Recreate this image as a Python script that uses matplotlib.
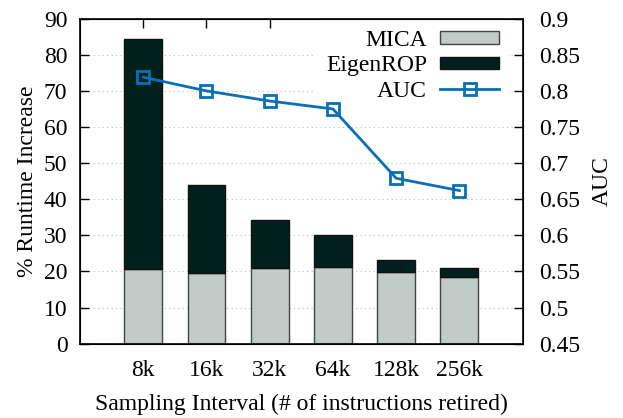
import matplotlib
matplotlib.use("Agg")
import matplotlib.pyplot as plt
import numpy as np

plt.rcParams['font.family'] = ['Liberation Serif', 'DejaVu Serif']

intervals = ["8k", "16k", "32k", "64k", "128k", "256k"]
mica = [20.8, 19.7, 20.9, 21.3, 19.9, 18.6]
eigenrop = [63.6, 24.2, 13.3, 8.8, 3.3, 2.3]
auc = [0.819, 0.800, 0.786, 0.775, 0.679, 0.662]

c_mica = "#c1cbc7"
c_eigen = "#02201c"
c_auc = "#0a6fb3"
fs = 17

fig = plt.figure(figsize=(6.23, 4.18), dpi=100)
ax = fig.add_axes([0.1284, 0.1778, 0.839 - 0.1284, 0.9553 - 0.1778])
x = np.arange(len(intervals))

b1 = ax.bar(x, mica, width=0.6, color=c_mica, edgecolor="#444444", linewidth=1.0, zorder=2, label="MICA")
b2 = ax.bar(x, eigenrop, bottom=mica, width=0.6, color=c_eigen, edgecolor="#111111", linewidth=1.0, zorder=2, label="EigenROP")

ax.set_xlim(-1, 6)
ax.set_ylim(0, 90)
ax.set_yticks(np.arange(0, 91, 10))
ax.set_xticks(x)
ax.set_xticklabels(intervals)
ax.yaxis.grid(True, linestyle=(0, (1, 3)), color="#bbbbbb", linewidth=0.8, zorder=0)
ax.set_axisbelow(True)
ax.tick_params(axis="x", direction="in", length=6.5, top=True, bottom=True, labelsize=fs, pad=12, width=1)
ax.tick_params(axis="y", direction="in", length=6.5, right=False, labelsize=fs, pad=9, width=1)
ax.set_xlabel("Sampling Interval (# of instructions retired)", fontsize=fs, labelpad=9)
ax.set_ylabel("% Runtime Increase", fontsize=fs, labelpad=4)
for s in ax.spines.values():
    s.set_linewidth(1.2)

ax2 = ax.twinx()
ln, = ax2.plot(x, auc, color=c_auc, linewidth=2, marker="s", markersize=8.5,
               markerfacecolor="none", markeredgewidth=2, label="AUC")
ax2.set_ylim(0.45, 0.9)
ax2.set_yticks(np.arange(0.45, 0.901, 0.05))
ax2.set_yticklabels(["%g" % round(v, 2) for v in np.arange(0.45, 0.901, 0.05)])
ax2.tick_params(axis="y", direction="in", length=6.5, labelsize=fs, pad=12, width=1)
ax2.set_ylabel("AUC", fontsize=fs, labelpad=8)

# legend sits on the bar axes so the AUC line is drawn over it
leg = ax.legend([b1, b2, ln], ["MICA", "EigenROP", "AUC"], loc="upper right",
                bbox_to_anchor=(0.9716, 1.0), markerfirst=False, frameon=True,
                fontsize=fs, handlelength=2.5, handleheight=0.45, labelspacing=0.19,
                borderaxespad=0.07, handletextpad=0.55)
leg.get_frame().set_edgecolor("none")
leg.get_frame().set_facecolor("white")
leg.get_frame().set_alpha(1)

fig.savefig("out.png", dpi=100)
